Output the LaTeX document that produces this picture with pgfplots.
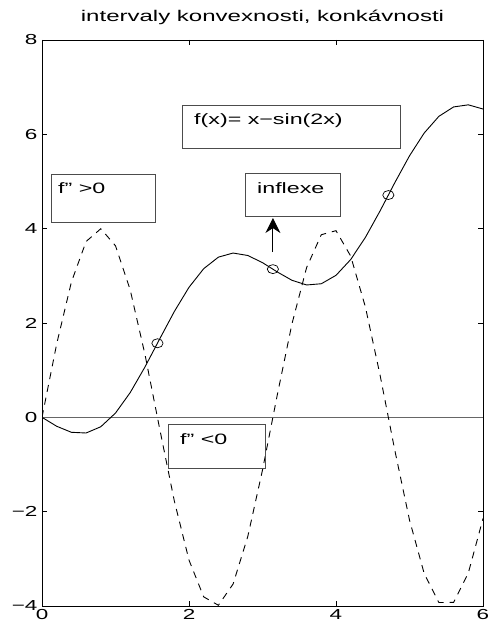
\documentclass[border=0pt]{standalone}
\usepackage{pgfplots}
\pgfplotsset{compat=1.18}
\usepackage{fontspec}
\setmainfont{Liberation Sans}[FakeStretch=1.55]
\usetikzlibrary{arrows.meta}

% f(x) = x - sin(2x) sampled on x = 0:0.2:6
\pgfplotstableread{
x     f
0.0   0.0000
0.2  -0.1894
0.4  -0.3174
0.6  -0.3320
0.8  -0.1996
1.0   0.0907
1.2   0.5245
1.4   1.0650
1.6   1.6584
1.8   2.2425
2.0   2.7568
2.2   3.1516
2.4   3.3962
2.6   3.4835
2.8   3.4313
3.0   3.2794
3.2   3.0835
3.4   2.9059
3.6   2.8063
3.8   2.8321
4.0   3.0106
4.2   3.3454
4.4   3.8151
4.6   4.3771
4.8   4.9743
5.0   5.5440
5.2   6.0278
5.4   6.3817
5.6   6.5809
5.8   6.6253
6.0   6.5366
}\fdata

% second derivative f''(x) = 4 sin(2x) on the same grid
\pgfplotstableread{
x     d
0.0   0.0000
0.2   1.5577
0.4   2.8694
0.6   3.7282
0.8   3.9983
1.0   3.6372
1.2   2.7019
1.4   1.3400
1.6  -0.2335
1.8  -1.7701
2.0  -3.0272
2.2  -3.8064
2.4  -3.9847
2.6  -3.5338
2.8  -2.5251
3.0  -1.1177
3.2   0.4662
3.4   1.9765
3.6   3.1747
3.8   3.8717
4.0   3.9574
4.2   3.4184
4.4   2.3397
4.6   0.8916
4.8  -0.6973
5.0  -2.1761
5.2  -3.3113
5.4  -3.9267
5.6  -3.9237
5.8  -3.3013
6.0  -2.1463
}\ddata

% inflection points
\pgfplotstableread{
x       y
1.5708  1.5708
3.1416  3.1416
4.7124  4.7124
}\infl

\begin{document}
\begin{tikzpicture}
\begin{axis}[
  at={(0,0)}, anchor=south west,
  scale only axis,
  width=441bp, height=566bp,
  xmin=0, xmax=6, ymin=-4, ymax=8,
  xtick={0,2,4,6}, ytick={-4,-2,0,2,4,6,8},
  xticklabels={0,2,4,6},
  yticklabels={−4,−2,0,2,4,6,8},
  tick align=inside,
  major tick length=5bp,
  axis line style={line width=0.9bp},
  every tick/.style={black, line width=0.7bp},
  tick label style={font=\fontsize{14.5bp}{16bp}\selectfont},
  xticklabel style={yshift=0bp},
  yticklabel style={xshift=-1bp},
  title={intervaly konvexnosti, konkávnosti},
  title style={font=\fontsize{15.5bp}{18bp}\selectfont, at={(0.5,1)}, anchor=base, yshift=13bp},
]
% horizontal reference line
\addplot[gray!80!black, line width=0.7bp] coordinates {(0,0) (6,0)};
% function
\addplot[black, line width=0.9bp] table[x=x, y=f] {\fdata};
% second derivative
\addplot[black, line width=0.9bp, dash pattern=on 7bp off 6bp] table[x=x, y=d] {\ddata};
% inflection points
\addplot[only marks, mark=o, mark size=4.5bp, mark options={xscale=1.25, line width=0.7bp, black}] table[x=x, y=y] {\infl};

% text boxes
\draw[gray!60!black, line width=0.8bp] (axis cs:1.914,5.710) rectangle (axis cs:4.871,6.621);
\node[anchor=base west, inner sep=0pt, font=\fontsize{15bp}{17bp}\selectfont] at (axis cs:2.068,6.218) {f(x)= x−sin(2x)};

\draw[gray!60!black, line width=0.8bp] (axis cs:0.122,4.141) rectangle (axis cs:1.537,5.158);
\node[anchor=base west, inner sep=0pt, font=\fontsize{15bp}{17bp}\selectfont] at (axis cs:0.218,4.756) {f'' >0};

\draw[gray!60!black, line width=0.8bp] (axis cs:2.762,4.268) rectangle (axis cs:4.054,5.180);
\node[anchor=base west, inner sep=0pt, font=\fontsize{15bp}{17bp}\selectfont] at (axis cs:2.925,4.756) {inflexe};

\draw[gray!60!black, line width=0.8bp] (axis cs:1.714,-1.074) rectangle (axis cs:3.034,-0.142);
\node[anchor=base west, inner sep=0pt, font=\fontsize{15bp}{17bp}\selectfont] at (axis cs:1.878,-0.566) {f'' <0};

% arrow to the inflection point annotation
\draw[-{Stealth[length=15bp, width=15bp]}, black, line width=1bp] (axis cs:3.1416,3.505) -- (axis cs:3.1416,4.226);
\end{axis}
\pgfresetboundingbox
\path[use as bounding box] (-42bp,-24bp) rectangle (446bp,606bp);
\end{tikzpicture}
\end{document}
